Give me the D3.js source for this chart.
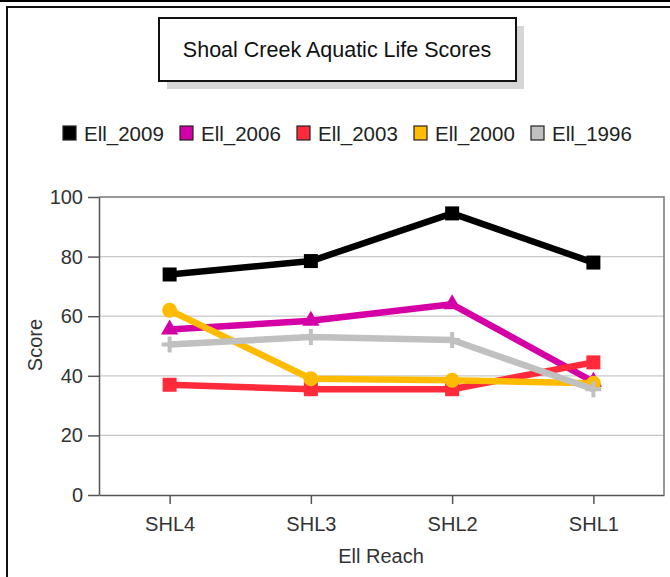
<!DOCTYPE html>
<html>
<head>
    <title>Shoal Creek Aquatic Life Scores</title>
    <script src="https://d3js.org/d3.v7.min.js"></script>
    <style>
        body { margin: 0; background: #fff; }
        svg { display: block; font-family: "Liberation Sans", Arial, sans-serif; }
        .axis text { font-size: 20px; fill: #333; }
        .axis path, .axis line { stroke: #555; stroke-width: 1.5; }
        .grid line { stroke: #c8c8c8; stroke-width: 1.2; }
        .legend text { font-size: 20px; fill: #222; }
    </style>
</head>
<body>
    <div id="chart"></div>
    <script>
        // data
        var reaches = ["SHL4", "SHL3", "SHL2", "SHL1"];
        var seriesNames = ["Ell_2009", "Ell_2006", "Ell_2003", "Ell_2000", "Ell_1996"];
        var ell2009 = [74, 78.5, 94.5, 78];
        var ell2006 = [55.5, 58.5, 64, 38];
        var ell2003 = [37, 35.5, 35.5, 44.5];
        var ell2000 = [62, 39, 38.5, 37.5];
        var ell1996 = [50.5, 53, 52, 35.5];
        var yTicks = [0, 20, 40, 60, 80, 100];

        var colors = ["#000000", "#d400a6", "#ff2a3a", "#ffbb00", "#c0c0c0"];
        var shapes = ["square", "triangle", "square", "circle", "plus"];
        var values = [ell2009, ell2006, ell2003, ell2000, ell1996];

        var width = 670,
            height = 577,
            plot = { left: 99, right: 664, top: 197, bottom: 495 };

        var svg = d3.select("#chart").append("svg")
            .attr("width", width)
            .attr("height", height);

        // outer frame
        svg.append("line")
            .attr("x1", 0).attr("x2", width)
            .attr("y1", 1).attr("y2", 1)
            .attr("stroke", "#000").attr("stroke-width", 2);
        svg.append("rect")
            .attr("x", 7).attr("y", 7)
            .attr("width", 700).attr("height", 600)
            .attr("fill", "none")
            .attr("stroke", "#111").attr("stroke-width", 2);

        // title box with shadow
        svg.append("rect")
            .attr("x", 167).attr("y", 26)
            .attr("width", 357).attr("height", 63)
            .attr("fill", "#d6d6d6");
        svg.append("rect")
            .attr("x", 159).attr("y", 18)
            .attr("width", 357).attr("height", 63)
            .attr("fill", "#fff")
            .attr("stroke", "#111").attr("stroke-width", 2);
        svg.append("text")
            .attr("x", 337).attr("y", 57)
            .attr("text-anchor", "middle")
            .style("font-size", "21.5px")
            .style("fill", "#111")
            .text("Shoal Creek Aquatic Life Scores");

        // legend
        var legendStep = 117;
        var legend = svg.selectAll(".legend")
            .data(seriesNames)
            .enter().append("g")
            .attr("class", "legend")
            .attr("transform", function(d, i) {
                return "translate(" + (63 + i * legendStep) + ",126)";
            });

        legend.append("rect")
            .attr("width", 13)
            .attr("height", 14)
            .style("fill", function(d, i) { return colors[i]; })
            .style("stroke", "#222")
            .style("stroke-width", 1.2);

        legend.append("text")
            .attr("x", 21)
            .attr("y", 14.5)
            .style("font-size", "20.5px")
            .text(function(d) { return d; });

        var x = d3.scalePoint()
            .domain(reaches)
            .range([plot.left, plot.right])
            .padding(0.5);

        var y = d3.scaleLinear()
            .domain([0, 100])
            .range([plot.bottom, plot.top]);

        // gridlines
        svg.append("g")
            .attr("class", "grid")
            .selectAll("line")
            .data(yTicks.filter(function(t) { return t > 0 && t < 100; }))
            .enter().append("line")
            .attr("x1", plot.left).attr("x2", plot.right)
            .attr("y1", function(d) { return y(d); })
            .attr("y2", function(d) { return y(d); });

        // plot frame (top and right)
        svg.append("path")
            .attr("d", "M" + plot.left + "," + plot.top + "H" + plot.right + "V" + plot.bottom)
            .attr("fill", "none")
            .attr("stroke", "#777")
            .attr("stroke-width", 1.5);

        svg.append("g")
            .attr("class", "axis")
            .attr("transform", "translate(" + plot.left + ",0)")
            .call(d3.axisLeft(y).tickValues(yTicks).tickSize(11).tickSizeOuter(0).tickPadding(5));

        svg.append("g")
            .attr("class", "axis")
            .attr("transform", "translate(0," + plot.bottom + ")")
            .call(d3.axisBottom(x).tickSize(9).tickSizeOuter(0).tickPadding(13));

        // axis titles
        svg.append("text")
            .attr("x", 381).attr("y", 563)
            .attr("text-anchor", "middle")
            .style("font-size", "20px")
            .style("fill", "#333")
            .text("Ell Reach");

        svg.append("text")
            .attr("transform", "translate(42,345) rotate(-90)")
            .attr("text-anchor", "middle")
            .style("font-size", "20px")
            .style("fill", "#333")
            .text("Score");

        var line = d3.line()
            .x(function(d, i) { return x(reaches[i]); })
            .y(function(d) { return y(d); });

        values.forEach(function(vals, s) {
            var g = svg.append("g");
            g.append("path")
                .datum(vals)
                .attr("d", line)
                .attr("fill", "none")
                .attr("stroke", colors[s])
                .attr("stroke-width", 6.5)
                .attr("stroke-linejoin", "round");

            var pts = g.selectAll(".pt")
                .data(vals)
                .enter().append("g")
                .attr("transform", function(d, i) {
                    return "translate(" + x(reaches[i]) + "," + y(d) + ")";
                });

            if (shapes[s] === "square") {
                pts.append("rect")
                    .attr("x", -7).attr("y", -7)
                    .attr("width", 14).attr("height", 14)
                    .attr("fill", colors[s]);
            } else if (shapes[s] === "circle") {
                pts.append("circle")
                    .attr("r", 7.5)
                    .attr("fill", colors[s]);
            } else if (shapes[s] === "triangle") {
                pts.append("path")
                    .attr("d", d3.symbol().type(d3.symbolTriangle).size(130))
                    .attr("fill", colors[s]);
            } else {
                pts.append("path")
                    .attr("d", "M-8,0H8M0,-8V8")
                    .attr("stroke", colors[s])
                    .attr("stroke-width", 4);
            }
        });
    </script>
</body>
</html>
